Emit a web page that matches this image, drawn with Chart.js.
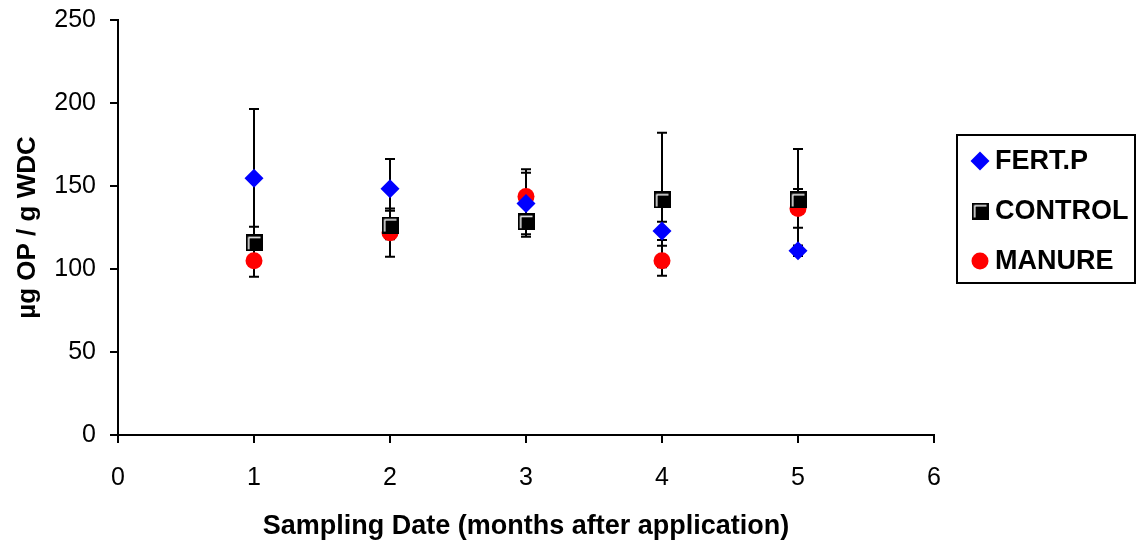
<!DOCTYPE html>
<html lang="en">
<head>
    <meta charset="UTF-8">
    <title>µg OP / g WDC by sampling date</title>
    <script src="https://cdn.jsdelivr.net/npm/chart.js"></script>
    <style>
        html, body { margin: 0; padding: 0; background: #FFFFFF; }
        .chart-wrap { width: 1139px; height: 543px; position: relative; }
    </style>
</head>
<body>
    <div class="chart-wrap">
        <canvas id="opChart"></canvas>
    </div>

    <script>
        // months after application
        const sampleMonths = [1, 2, 3, 4, 5];
        const seriesNames = ["FERT.P", "CONTROL", "MANURE"];

        const fertValues = [154.6, 148.4, 139.5, 122.9, 111.0];
        const fertErrors = [41.8, 17.9, 18.5, 5.5, 3.2];

        const controlValues = [115.8, 126.5, 128.5, 141.6, 141.6];
        const controlErrors = [9.7, 8.6, 9.0, 40.5, 30.7];

        const manureValues = [105.0, 121.9, 143.6, 105.0, 136.5];
        const manureErrors = [9.6, 14.5, 16.5, 9.0, 11.7];

        const yTicks = [0, 50, 100, 150, 200, 250];
        const xTicks = [0, 1, 2, 3, 4, 5, 6];

        const FONT = "'Liberation Sans', Arial, sans-serif";

        // black square with white inner highlight, like the old spreadsheet marker
        function makeSquareMarker() {
            const c = document.createElement('canvas');
            c.width = 17; c.height = 17;
            const g = c.getContext('2d');
            g.fillStyle = '#000';
            g.fillRect(0, 0, 17, 17);
            g.strokeStyle = '#fff';
            g.lineWidth = 1.5;
            g.beginPath();
            g.moveTo(3.25, 15);
            g.lineTo(3.25, 3.25);
            g.lineTo(15, 3.25);
            g.stroke();
            return c;
        }
        const squareMarker = makeSquareMarker();

        function toPoints(vals) {
            return sampleMonths.map((m, i) => ({ x: m, y: vals[i] }));
        }

        const errorBars = {
            id: 'errorBars',
            beforeDatasetsDraw(chart) {
                const ctx = chart.ctx;
                const xs = chart.scales.x, ys = chart.scales.y;
                const errs = [fertErrors, controlErrors, manureErrors];
                ctx.save();
                ctx.strokeStyle = '#000';
                ctx.lineWidth = 2;
                chart.data.datasets.forEach((ds, di) => {
                    ds.data.forEach((p, i) => {
                        const e = errs[di][i];
                        const px = xs.getPixelForValue(p.x);
                        const top = ys.getPixelForValue(p.y + e);
                        const bot = ys.getPixelForValue(p.y - e);
                        ctx.beginPath();
                        ctx.moveTo(px, top); ctx.lineTo(px, bot);
                        ctx.moveTo(px - 5, top); ctx.lineTo(px + 5, top);
                        ctx.moveTo(px - 5, bot); ctx.lineTo(px + 5, bot);
                        ctx.stroke();
                    });
                });
                ctx.restore();
            }
        };

        const boxLegend = {
            id: 'boxLegend',
            afterDraw(chart) {
                const ctx = chart.ctx;
                ctx.save();
                ctx.strokeStyle = '#000';
                ctx.lineWidth = 2;
                ctx.strokeRect(957, 135, 178, 148);
                const rows = [161, 211, 261];
                ctx.font = "bold 27px " + FONT;
                ctx.textBaseline = 'middle';
                ctx.fillStyle = '#000';
                chart.data.datasets.forEach((ds, i) => {
                    const mx = 980, my = rows[i];
                    if (i === 0) {
                        ctx.fillStyle = ds.backgroundColor;
                        ctx.beginPath();
                        ctx.moveTo(mx - 9.5, my); ctx.lineTo(mx, my - 9.5);
                        ctx.lineTo(mx + 9.5, my); ctx.lineTo(mx, my + 9.5);
                        ctx.closePath(); ctx.fill();
                    } else if (i === 1) {
                        ctx.drawImage(squareMarker, mx - 8.5, my - 8.5);
                    } else {
                        ctx.fillStyle = ds.backgroundColor;
                        ctx.beginPath();
                        ctx.arc(mx, my, 8.5, 0, Math.PI * 2);
                        ctx.fill();
                    }
                    ctx.fillStyle = '#000';
                    ctx.fillText(ds.label, 995, my + 1);
                });
                ctx.restore();
            }
        };

        new Chart(document.getElementById('opChart'), {
            type: 'scatter',
            data: {
                datasets: [
                    { label: seriesNames[0], data: toPoints(fertValues), pointStyle: 'rectRot',
                      pointRadius: 9.5, backgroundColor: '#0000FF', borderColor: '#0000FF', borderWidth: 0 },
                    { label: seriesNames[1], data: toPoints(controlValues), pointStyle: squareMarker,
                      pointRadius: 8.5, backgroundColor: '#000', borderColor: '#000' },
                    { label: seriesNames[2], data: toPoints(manureValues), pointStyle: 'circle',
                      pointRadius: 8.5, backgroundColor: '#FF0000', borderColor: '#FF0000', borderWidth: 0 }
                ]
            },
            options: {
                responsive: true, maintainAspectRatio: false, animation: false,
                layout: { padding: { top: 20, right: 205, left: 0, bottom: 0 } },
                plugins: { legend: { display: false }, tooltip: { enabled: false } },
                scales: {
                    x: {
                        type: 'linear', min: 0, max: 6,
                        afterBuildTicks: (s) => { s.ticks = xTicks.map(v => ({ value: v })); },
                        afterFit: (s) => { s.height = 108; s.paddingLeft = 0; s.paddingRight = 0; },
                        grid: { drawOnChartArea: false, drawTicks: true, tickLength: 8, color: '#000', lineWidth: 2 },
                        border: { display: true, color: '#000', width: 2 },
                        ticks: { color: '#000', font: { family: FONT, size: 25 }, padding: 20, maxRotation: 0 },
                        title: { display: true, text: 'Sampling Date (months after application)', color: '#000',
                                 font: { family: FONT, size: 27, weight: 'bold' }, padding: { top: 9, bottom: 0 } }
                    },
                    y: {
                        min: 0, max: 250,
                        afterBuildTicks: (s) => { s.ticks = yTicks.map(v => ({ value: v })); },
                        afterFit: (s) => { s.width = 118; s.paddingTop = 0; s.paddingBottom = 0; },
                        grid: { drawOnChartArea: false, drawTicks: true, tickLength: 8, color: '#000', lineWidth: 2 },
                        border: { display: true, color: '#000', width: 2 },
                        ticks: { color: '#000', font: { family: FONT, size: 25 }, padding: 14 },
                        title: { display: true, text: 'µg OP / g WDC', color: '#000',
                                 font: { family: FONT, size: 26, weight: 'bold' }, padding: { top: 12, bottom: 0 } }
                    }
                }
            },
            plugins: [errorBars, boxLegend]
        });
    </script>
</body>
</html>
